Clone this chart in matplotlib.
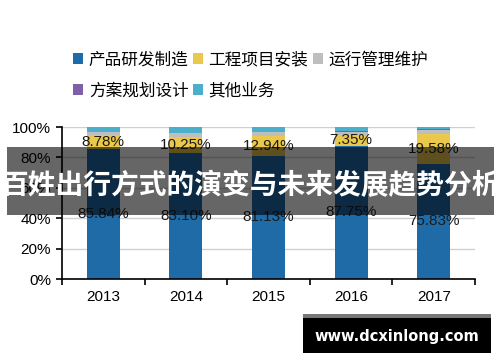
import numpy as np
import matplotlib
matplotlib.use("Agg")
import matplotlib.pyplot as plt
from matplotlib.patches import Patch, Rectangle

plt.rcParams['font.family'] = ['Liberation Sans', 'Noto Sans CJK SC', 'DejaVu Sans']

# --- data ---
years = ['2013', '2014', '2015', '2016', '2017']
series_names = ['产品研发制造', '工程项目安装', '运行管理维护', '方案规划设计', '其他业务']
production = [85.84, 83.10, 81.13, 87.75, 75.83]
engineering = [8.78, 10.25, 12.94, 7.35, 19.58]
operation = [2.0, 2.5, 2.5, 1.8, 2.8]
design = [0.4, 0.5, 0.5, 0.3, 0.5]
other = [2.98, 3.65, 2.93, 2.8, 1.29]
colors = ['#1F6BA8', '#E9C84B', '#BEBEBE', '#7F5FA8', '#4BAFCB']

title_text = '百姓出行方式的演变与未来发展趋势分析'
site_text = 'www.dcxinlong.com'

fig = plt.figure(figsize=(5.0, 3.62), dpi=100)
ax = fig.add_axes([0.124, 0.229, 0.826, 0.42])

x = np.arange(len(years))
bottom = np.zeros(len(years))
for vals, c in zip([production, engineering, operation, design, other], colors):
    ax.bar(x, vals, width=0.4, bottom=bottom, color=c, zorder=2)
    bottom += np.array(vals)

# value labels for the two big segments
for i in range(len(years)):
    ax.text(x[i], production[i] / 2, f'{production[i]:.2f}%', ha='center', va='center',
            fontsize=11, color='#1a1a1a', zorder=3)
    ax.text(x[i], production[i] + engineering[i] / 2, f'{engineering[i]:.2f}%', ha='center',
            va='center', fontsize=11, color='#1a1a1a', zorder=3)

ax.set_xlim(-0.5, len(years) - 0.5)
ax.set_ylim(0, 100)
ax.set_yticks(range(0, 101, 20))
ax.set_yticklabels([f'{v}%' for v in range(0, 101, 20)], fontsize=11)
ax.set_xticks(x)
ax.set_xticklabels(years, fontsize=11)
ax.set_xticks(np.arange(-0.5, len(years), 1), minor=True)
ax.tick_params(axis='x', which='major', length=0, pad=8)
ax.tick_params(axis='x', which='minor', length=4, width=1.2, direction='out')
ax.tick_params(axis='y', length=4, width=1.2, direction='out', pad=4)
ax.grid(axis='y', color='#D0D0D0', linewidth=1, zorder=0)
for s in ['top', 'right']:
    ax.spines[s].set_visible(False)
for s in ['left', 'bottom']:
    ax.spines[s].set_linewidth(1.2)
ax.set_axisbelow(True)

# legend in two rows
handles = [Patch(facecolor=c, edgecolor='none') for c in colors]
kw = dict(frameon=False, handlelength=0.6, handleheight=0.6, handletextpad=0.35,
          columnspacing=0.25, borderaxespad=0, borderpad=0,
          prop={'family': ['Noto Sans CJK SC'], 'size': 12})
fig.legend(handles[:3], series_names[:3], ncol=3, loc='center left',
           bbox_to_anchor=(0.146, 1 - 60 / 362), **kw)
fig.legend(handles[3:], series_names[3:], ncol=2, loc='center left',
           bbox_to_anchor=(0.146, 1 - 91 / 362), **kw)

# overlay banner
fig.patches.append(Rectangle((7 / 500, 1 - 215 / 362), 487 / 500, 68 / 362,
                             transform=fig.transFigure, facecolor='black', alpha=0.6,
                             edgecolor='none', zorder=10))
fig.text(0.5, 1 - 186 / 362, title_text, ha='center', va='center', color='white',
         fontsize=20, fontweight='bold', family=['Noto Sans CJK SC'], zorder=11)

# site watermark
fig.patches.append(Rectangle((303 / 500, 1 - 318 / 362), 188 / 500, 4 / 362,
                             transform=fig.transFigure, facecolor='#777777',
                             edgecolor='none', zorder=10))
fig.patches.append(Rectangle((303 / 500, 1 - 353 / 362), 188 / 500, 35 / 362,
                             transform=fig.transFigure, facecolor='black',
                             edgecolor='none', zorder=10))
fig.text(397 / 500, 1 - 336 / 362, site_text, ha='center', va='center', color='white',
         fontsize=10.5, fontweight='bold', family=['DejaVu Sans'], zorder=11)

fig.savefig('out.png', dpi=100)
